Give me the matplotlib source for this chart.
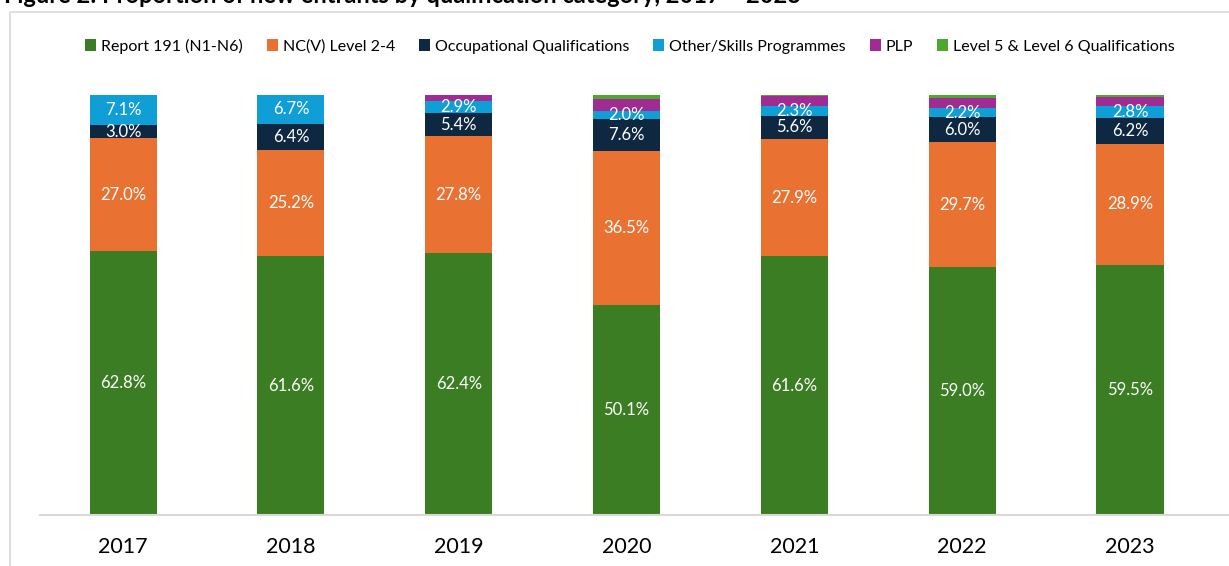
import matplotlib.pyplot as plt
from matplotlib.patches import Rectangle
import numpy as np

plt.rcParams['font.family'] = ['Lato', 'DejaVu Sans']

years = ['2017', '2018', '2019', '2020', '2021', '2022', '2023']
series_names = ['Report 191 (N1-N6)', 'NC(V) Level 2-4', 'Occupational Qualifications',
                'Other/Skills Programmes', 'PLP', 'Level 5 & Level 6 Qualifications']
report191 = [62.8, 61.6, 62.4, 50.1, 61.6, 59.0, 59.5]
ncv = [27.0, 25.2, 27.8, 36.5, 27.9, 29.7, 28.9]
occupational = [3.0, 6.4, 5.4, 7.6, 5.6, 6.0, 6.2]
other_skills = [7.1, 6.7, 2.9, 2.0, 2.3, 2.2, 2.8]
plp = [0.0, 0.1, 1.4, 2.9, 2.3, 2.5, 2.2]
level56 = [0.0, 0.0, 0.1, 0.9, 0.3, 0.6, 0.4]

colors = ['#3B7D23', '#E97132', '#0E2841', '#0F9ED5', '#A02B93', '#4EA72E']
series = [report191, ncv, occupational, other_skills, plp, level56]
labelled = [True, True, True, True, False, False]

W, H = 1229, 566
fig = plt.figure(figsize=(W / 100, H / 100), dpi=100)

# chart frame (light grey border)
fig.add_artist(Rectangle((10 / W, -0.1), 1.2, (H - 12) / H + 0.1, transform=fig.transFigure,
                         fill=False, edgecolor='#D9D9D9', linewidth=1.2))

# title, partially cut at the top edge as in the source
fig.text(4 / W, 1 - 3 / H, 'Figure 2: Proportion of new entrants by qualification category, 2017 \u2013 2023',
         fontsize=17, fontweight='bold', va='baseline', ha='left', color='#000000')

ax = fig.add_axes([40 / W, (H - 515) / H, 1 - 40 / W, 420 / H])
x = np.arange(len(years))
bottom = np.zeros(len(years))
handles = []
for vals, col, name, lab in zip(series, colors, series_names, labelled):
    vals = np.array(vals)
    b = ax.bar(x, vals, 0.4, bottom=bottom, color=col, label=name, zorder=2)
    handles.append(b)
    if lab:
        for xi, v, bt in zip(x, vals, bottom):
            ax.text(xi, bt + v / 2, f'{v:.1f}%', ha='center', va='center',
                    color='white', fontsize=12)
    bottom += vals

ax.set_xlim(-0.495, 6.59)
ax.set_ylim(0, 100)
for s in ['top', 'right', 'left']:
    ax.spines[s].set_visible(False)
ax.spines['bottom'].set_color('#D9D9D9')
ax.spines['bottom'].set_linewidth(1.5)
ax.set_yticks([])
ax.set_xticks(x)
ax.set_xticklabels(years, fontsize=15.5)
ax.tick_params(axis='x', length=0, pad=16)

fig.legend(handles=handles, labels=series_names, loc='center', bbox_to_anchor=(630 / W, 1 - 46 / H),
           ncol=6, frameon=False, fontsize=11.5, handlelength=0.7, handleheight=0.7,
           handletextpad=0.3, columnspacing=1.5)

fig.savefig('out.png', dpi=100)
